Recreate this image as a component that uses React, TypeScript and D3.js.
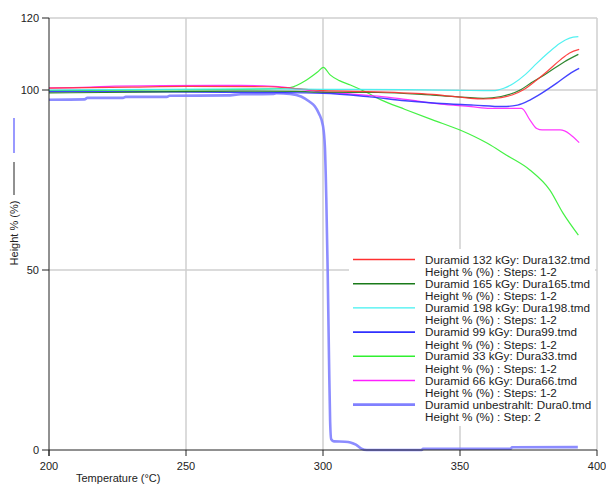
import React from 'react';
import * as d3 from 'd3';

// Temperature (°C), Height % (%)
const dura132 = [[200, 100.5], [230, 100.8], [250, 101.0], [280, 100.9], [290, 100.4], [300, 99.8], [320, 99.5], [340, 98.8], [358.5, 97.5], [365, 97.9], [369, 98.6], [373, 100.0], [378, 102.8], [382, 105.3], [386.5, 108.3], [390, 110.3], [393.5, 111.3]];
const dura165 = [[200, 99.2], [220, 99.3], [240, 99.5], [270, 99.7], [290, 99.6], [300, 99.4], [320, 99.3], [340, 98.6], [358.5, 97.7], [365, 98.2], [372, 100.0], [376, 102.0], [381.6, 104.6], [388, 107.8], [393.2, 109.9]];
const dura198 = [[200, 100.0], [240, 100.2], [280, 100.3], [300, 100.2], [330, 100.1], [350, 99.9], [362, 99.8], [366, 100.5], [369.5, 101.8], [374, 104.4], [378, 107.4], [382, 110.2], [386.5, 113.0], [390, 114.4], [393.2, 114.8]];
const dura99 = [[200, 99.6], [240, 99.5], [280, 99.3], [300, 99.1], [317, 98.1], [330, 97.0], [341.5, 96.3], [355, 95.8], [365.7, 95.4], [371, 95.8], [375.5, 97.2], [380, 99.2], [385.3, 101.9], [390, 104.5], [393.5, 106.0]];
const dura33 = [[200, 99.8], [240, 100.0], [280, 100.3], [288, 100.7], [294, 102.8], [298, 105.0], [300.1, 106.3], [302.6, 104.2], [306, 102.6], [310, 101.4], [316, 99.3], [320.8, 97.4], [330, 94.6], [340, 91.7], [350, 88.9], [360, 85.2], [367, 81.9], [375.5, 77.8], [382.8, 72.2], [387.6, 65.8], [393.2, 59.7]];
const dura66 = [[200, 100.6], [215, 100.8], [224, 101.1], [241, 101.2], [270, 101.3], [282, 101.0], [292, 100.2], [300, 99.4], [310, 98.9], [320, 98.3], [330, 97.4], [343, 96.1], [354, 95.4], [361, 94.9], [372.5, 94.9], [375.5, 91.7], [378, 89.3], [380, 88.9], [386.5, 88.9], [393.5, 85.4]];
const dura0 = [[200, 97.3], [213, 97.4], [214, 97.8], [227, 97.8], [228, 98.1], [243, 98.1], [244, 98.4], [265, 98.5], [270, 98.8], [282, 98.9], [283, 99.1], [288, 98.9], [292, 98.2], [295, 96.8], [297, 95.5], [298.5, 93.5], [300, 90], [300.7, 84], [301.2, 70], [301.7, 50], [302.2, 25], [302.6, 8], [303, 3], [304, 2.4], [308, 2.3], [310, 2.1], [312, 1.5], [314, 0.4], [316, 0], [336, 0], [336.5, 0.35], [368.5, 0.35], [369, 0.75], [393, 0.8]];

const xTicks = [200, 250, 300, 350, 400];
const yTicks = [0, 50, 100, 120];

const seriesNames = [
  'Duramid 132 kGy: Dura132.tmd',
  'Duramid 165 kGy: Dura165.tmd',
  'Duramid 198 kGy: Dura198.tmd',
  'Duramid 99 kGy: Dura99.tmd',
  'Duramid 33 kGy: Dura33.tmd',
  'Duramid 66 kGy: Dura66.tmd',
  'Duramid unbestrahlt: Dura0.tmd'
];
const seriesSub = [
  'Height % (%) : Steps: 1-2',
  'Height % (%) : Steps: 1-2',
  'Height % (%) : Steps: 1-2',
  'Height % (%) : Steps: 1-2',
  'Height % (%) : Steps: 1-2',
  'Height % (%) : Steps: 1-2',
  'Height % (%) : Step: 2'
];
const seriesData = [dura132, dura165, dura198, dura99, dura33, dura66, dura0];
const seriesColors = ['#ff3030', '#1a7a1a', '#40f0f0', '#3030ff', '#30f030', '#ff20ff', '#8080ff'];
const seriesWidths = [1.2, 1.2, 1.2, 1.4, 1.2, 1.2, 2.6];

export default function App() {
  const width = 606;
  const height = 484;
  const left = 49, right = 597, top = 18, bottom = 450;

  const x = d3.scaleLinear().domain([200, 400]).range([left, right]);
  const y = d3.scaleLinear().domain([0, 120]).range([bottom, top]);

  const line = d3.line<number[]>()
    .x(d => x(d[0]))
    .y(d => y(d[1]))
    .curve(d3.curveMonotoneX);

  const font = 'Liberation Sans, Arial, sans-serif';
  const legX = 353, legY = 259.5, legStep = 24.2;

  // draw the thick unbestrahlt line first so the others sit on top
  const order = [6, 4, 5, 3, 1, 0, 2];

  return (
    <svg width={width} height={height} style={{ position: 'absolute', left: 0, top: 0, background: '#fff' }}
      fontFamily={font}>
      {/* grid */}
      {xTicks.slice(1).map(t => (
        <line key={'gx' + t} x1={x(t)} x2={x(t)} y1={top} y2={bottom} stroke="#cfcfcf" strokeWidth={1.5} />
      ))}
      {yTicks.slice(1).map(t => (
        <line key={'gy' + t} x1={left} x2={right} y1={y(t)} y2={y(t)} stroke="#cfcfcf" strokeWidth={1.5} />
      ))}

      {/* data */}
      {order.map(i => (
        <path key={'s' + i} d={line(seriesData[i]) || ''} fill="none"
          stroke={seriesColors[i]} strokeWidth={seriesWidths[i]} strokeOpacity={0.9} strokeLinejoin="round" />
      ))}

      {/* legend */}
      <rect x={349} y={249} width={246} height={177} fill="#fff" />
      {seriesNames.map((name, i) => (
        <g key={'l' + i} transform={`translate(${legX},${legY + i * legStep})`}>
          <line x1={0} x2={62} y1={0} y2={0} stroke={seriesColors[i]} strokeWidth={seriesWidths[i] + 0.2} />
          <text x={72} y={4} fontSize={11.7} fill="#222">{name}</text>
          <text x={72} y={16.5} fontSize={11.7} fill="#222">{seriesSub[i]}</text>
        </g>
      ))}

      {/* axes */}
      <line x1={left} x2={left} y1={top} y2={bottom + 6} stroke="#222" strokeWidth={1} />
      <line x1={left} x2={right} y1={bottom} y2={bottom} stroke="#222" strokeWidth={1} />
      {yTicks.map(t => (
        <g key={'ty' + t}>
          <line x1={left - 7} x2={left} y1={y(t)} y2={y(t)} stroke="#222" />
          <text x={left - 10} y={y(t) + 4} fontSize={11} textAnchor="end" fill="#222">{t}</text>
        </g>
      ))}
      {xTicks.map(t => (
        <g key={'tx' + t}>
          <line x1={x(t)} x2={x(t)} y1={bottom} y2={bottom + 6} stroke="#222" />
          <text x={x(t)} y={bottom + 20} fontSize={11} textAnchor="middle" fill="#222">{t}</text>
        </g>
      ))}
      <text x={76} y={482} fontSize={11} fill="#222">Temperature (°C)</text>

      {/* y label with series indicators */}
      <text transform="translate(18,233) rotate(-90)" fontSize={11} textAnchor="middle" fill="#222">Height % (%)</text>
      <line x1={14} x2={14} y1={162} y2={195} stroke="#222" strokeWidth={1} />
      <line x1={14} x2={14} y1={118} y2={153} stroke="#8080ff" strokeWidth={1.6} />
    </svg>
  );
}
